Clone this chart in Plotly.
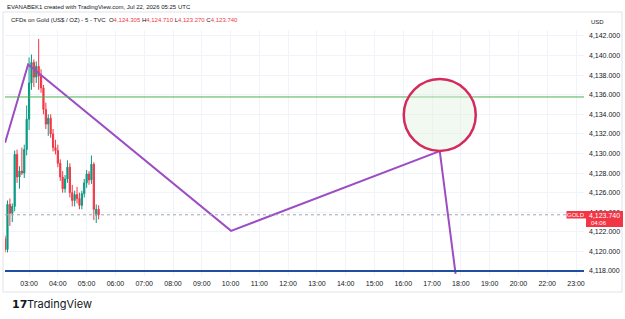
import plotly.graph_objects as go

# ---------------- data ----------------
day = "2026-07-22"
candle_times = ["02:10", "02:15", "02:20", "02:25", "02:30", "02:35", "02:40", "02:45",
                "02:50", "02:55", "03:00", "03:05", "03:10", "03:15", "03:20", "03:25",
                "03:30", "03:35", "03:40", "03:45", "03:50", "03:55", "04:00", "04:05",
                "04:10", "04:15", "04:20", "04:25", "04:30", "04:35", "04:40", "04:45",
                "04:50", "04:55", "05:00", "05:05", "05:10", "05:15", "05:20", "05:25"]
opens = [4121.3, 4120.2, 4124.8, 4123.9, 4124.6, 4129.9, 4127.6, 4128.2,
         4128.0, 4130.4, 4133.5, 4137.2, 4139.3, 4137.8, 4138.9, 4137.9,
         4136.7, 4134.5, 4133.0, 4133.6, 4132.0, 4130.6, 4130.3, 4129.0,
         4127.6, 4126.4, 4127.4, 4128.6, 4126.0, 4125.2, 4125.8, 4125.4,
         4124.7, 4125.9, 4127.0, 4127.9, 4127.3, 4128.9, 4123.7, 4124.305]
highs = [4121.6, 4125.2, 4125.4, 4124.9, 4130.3, 4130.4, 4128.7, 4130.6,
         4130.9, 4134.9, 4139.8, 4140.1, 4139.6, 4139.4, 4141.7, 4138.6,
         4137.0, 4135.2, 4134.0, 4134.0, 4132.5, 4131.4, 4130.9, 4129.4,
         4128.2, 4127.8, 4129.3, 4129.0, 4126.8, 4126.2, 4126.6, 4126.0,
         4126.2, 4127.4, 4128.3, 4128.2, 4129.8, 4129.1, 4124.8, 4124.710]
lows = [4119.9, 4119.9, 4122.6, 4123.0, 4124.1, 4127.0, 4126.4, 4127.8,
        4127.5, 4129.8, 4132.4, 4136.5, 4136.8, 4137.2, 4136.5, 4136.2,
        4134.0, 4132.5, 4131.8, 4131.6, 4130.2, 4129.9, 4128.6, 4127.2,
        4126.0, 4126.0, 4127.0, 4125.5, 4124.6, 4124.6, 4124.9, 4124.3,
        4124.3, 4125.5, 4126.5, 4126.8, 4126.9, 4123.2, 4122.9, 4123.270]
closes = [4120.2, 4124.8, 4123.9, 4124.6, 4129.9, 4127.6, 4128.2, 4128.0,
          4130.4, 4133.5, 4137.2, 4139.3, 4137.8, 4138.9, 4137.9, 4136.7,
          4134.5, 4133.0, 4133.6, 4132.0, 4130.6, 4130.3, 4129.0, 4127.6,
          4126.4, 4127.4, 4128.6, 4126.0, 4125.2, 4125.8, 4125.4, 4124.7,
          4125.9, 4127.0, 4127.9, 4127.3, 4128.9, 4124.3, 4124.305, 4123.740]

path_times = ["02:10", "02:58", "10:01", "17:16", "17:49"]
path_prices = [4131.1, 4139.1, 4122.1, 4130.25, 4117.7]

resistance_level = 4135.77
support_level = 4118.0
circle_time = "17:16"
circle_price = 4133.93
last_price = 4123.74

price_ticks = [4118, 4120, 4122, 4124, 4126, 4128, 4130, 4132, 4134, 4136, 4138, 4140, 4142]
hour_labels = ["03:00", "04:00", "05:00", "06:00", "07:00", "08:00", "09:00", "10:00",
               "11:00", "12:00", "13:00", "14:00", "15:00", "16:00", "17:00", "18:00",
               "19:00", "20:00", "22:00", "23:00"]

def ts(t):
    return f"{day} {t}"

# ---------------- layout helpers (pixel -> paper) ----------------
W, H = 625, 319
ML, MR, MT, MB = 5, 41, 30, 43
PW, PH = W - ML - MR, H - MT - MB

def px(x):
    return (x - ML) / PW

def py(y):
    return (H - MB - y) / PH

GREEN = "#089981"
RED = "#f23645"
TXT = "#131722"
FONT = "Liberation Sans"

fig = go.Figure()

fig.add_trace(go.Candlestick(
    x=[ts(t) for t in candle_times], open=opens, high=highs, low=lows, close=closes,
    increasing=dict(line=dict(color=GREEN, width=1), fillcolor=GREEN),
    decreasing=dict(line=dict(color=RED, width=1), fillcolor=RED),
    whiskerwidth=0, showlegend=False, hoverinfo="skip"))

fig.add_trace(go.Scatter(
    x=[ts(t) for t in path_times], y=path_prices, mode="lines",
    line=dict(color="#9c4dc4", width=2), showlegend=False, hoverinfo="skip"))

shapes = []
# horizontal levels
shapes.append(dict(type="line", xref="paper", yref="y", x0=0, x1=1,
                   y0=resistance_level, y1=resistance_level,
                   line=dict(color="#4caf50", width=1)))
shapes.append(dict(type="line", xref="paper", yref="y", x0=0, x1=1,
                   y0=support_level, y1=support_level,
                   line=dict(color="#1e4fa3", width=2)))
shapes.append(dict(type="line", xref="paper", yref="y", x0=0, x1=px(566),
                   y0=last_price, y1=last_price,
                   line=dict(color="#a3a6af", width=1, dash="dot")))
# circle
shapes.append(dict(type="circle", xref="x", yref="y", xsizemode="pixel", ysizemode="pixel",
                   xanchor=ts(circle_time), yanchor=circle_price,
                   x0=-36, x1=36, y0=-36, y1=36,
                   line=dict(color="#d42a5e", width=2.5),
                   fillcolor="rgba(225,242,225,0.45)", layer="above"))
# price label boxes
shapes.append(dict(type="rect", xref="paper", yref="paper", x0=px(566.5), x1=px(586),
                   y0=py(218.5), y1=py(211), fillcolor=RED, line=dict(width=0), layer="above"))
shapes.append(dict(type="rect", xref="paper", yref="paper", x0=px(586), x1=px(623),
                   y0=py(227), y1=py(211), fillcolor=RED, line=dict(width=0), layer="above"))
# frame
shapes.append(dict(type="rect", xref="paper", yref="paper", x0=px(3), x1=px(622),
                   y0=py(292), y1=py(12), line=dict(color="#e0e3eb", width=1),
                   fillcolor="rgba(0,0,0,0)", layer="below"))

annotations = [
    dict(x=px(5), y=py(7), xref="paper", yref="paper", xanchor="left", yanchor="middle",
         text="EVANABEK1 created with TradingView.com, Jul 22, 2026 05:25 UTC",
         showarrow=False, font=dict(family=FONT, size=6, color=TXT)),
    dict(x=px(9), y=py(20), xref="paper", yref="paper", xanchor="left", yanchor="middle",
         text=("CFDs on Gold (US$ / OZ) - 5 - TVC  "
               f"O<span style='color:{RED}'>4,124.305</span> "
               f"H<span style='color:{RED}'>4,124.710</span> "
               f"L<span style='color:{RED}'>4,123.270</span> "
               f"C<span style='color:{RED}'>4,123.740</span>"),
         showarrow=False, font=dict(family=FONT, size=6, color=TXT)),
    dict(x=px(589), y=py(22), xref="paper", yref="paper", xanchor="left", yanchor="middle",
         text="USD", showarrow=False, font=dict(family=FONT, size=6, color=TXT)),
    dict(x=px(576.2), y=py(214.8), xref="paper", yref="paper", xanchor="center", yanchor="middle",
         text="GOLD", showarrow=False, font=dict(family=FONT, size=6, color="white")),
    dict(x=px(604.5), y=py(215), xref="paper", yref="paper", xanchor="center", yanchor="middle",
         text="4,123.740", showarrow=False, font=dict(family=FONT, size=7, color="white")),
    dict(x=px(589), y=py(223), xref="paper", yref="paper", xanchor="left", yanchor="middle",
         text="04:06", showarrow=False, font=dict(family=FONT, size=6, color="white")),
    dict(x=px(10), y=py(304), xref="paper", yref="paper", xanchor="left", yanchor="middle",
         text="<b>17</b>", showarrow=False, font=dict(family="DejaVu Sans", size=11, color=TXT)),
    dict(x=px(25), y=py(304), xref="paper", yref="paper", xanchor="left", yanchor="middle",
         text="TradingView", showarrow=False, font=dict(family="Inter", size=11, color=TXT)),
]

x_tick_vals = [ts(h) for h in hour_labels]

fig.update_layout(
    width=W, height=H, margin=dict(l=ML, r=MR, t=MT, b=MB),
    paper_bgcolor="white", plot_bgcolor="white",
    shapes=shapes, annotations=annotations, showlegend=False,
    xaxis=dict(
        type="date", range=[ts("02:09:50"), ts("23:16:40")],
        rangebreaks=[dict(bounds=[21, 22], pattern="hour")],
        rangeslider=dict(visible=False),
        tickvals=x_tick_vals, ticktext=hour_labels,
        tickfont=dict(family=FONT, size=7, color=TXT),
        showgrid=True, gridcolor="#f0f3fa", gridwidth=1,
        showline=False, zeroline=False, ticks="", ticklabelstandoff=2,
    ),
    yaxis=dict(
        side="right", range=[4117.49, 4142.61],
        tickvals=price_ticks, tickformat=",.3f",
        tickfont=dict(family=FONT, size=7, color=TXT),
        showgrid=True, gridcolor="#f0f3fa", gridwidth=1,
        showline=False, zeroline=False, ticks="", ticklabelstandoff=4,
    ),
)

fig.write_html("out.html")
